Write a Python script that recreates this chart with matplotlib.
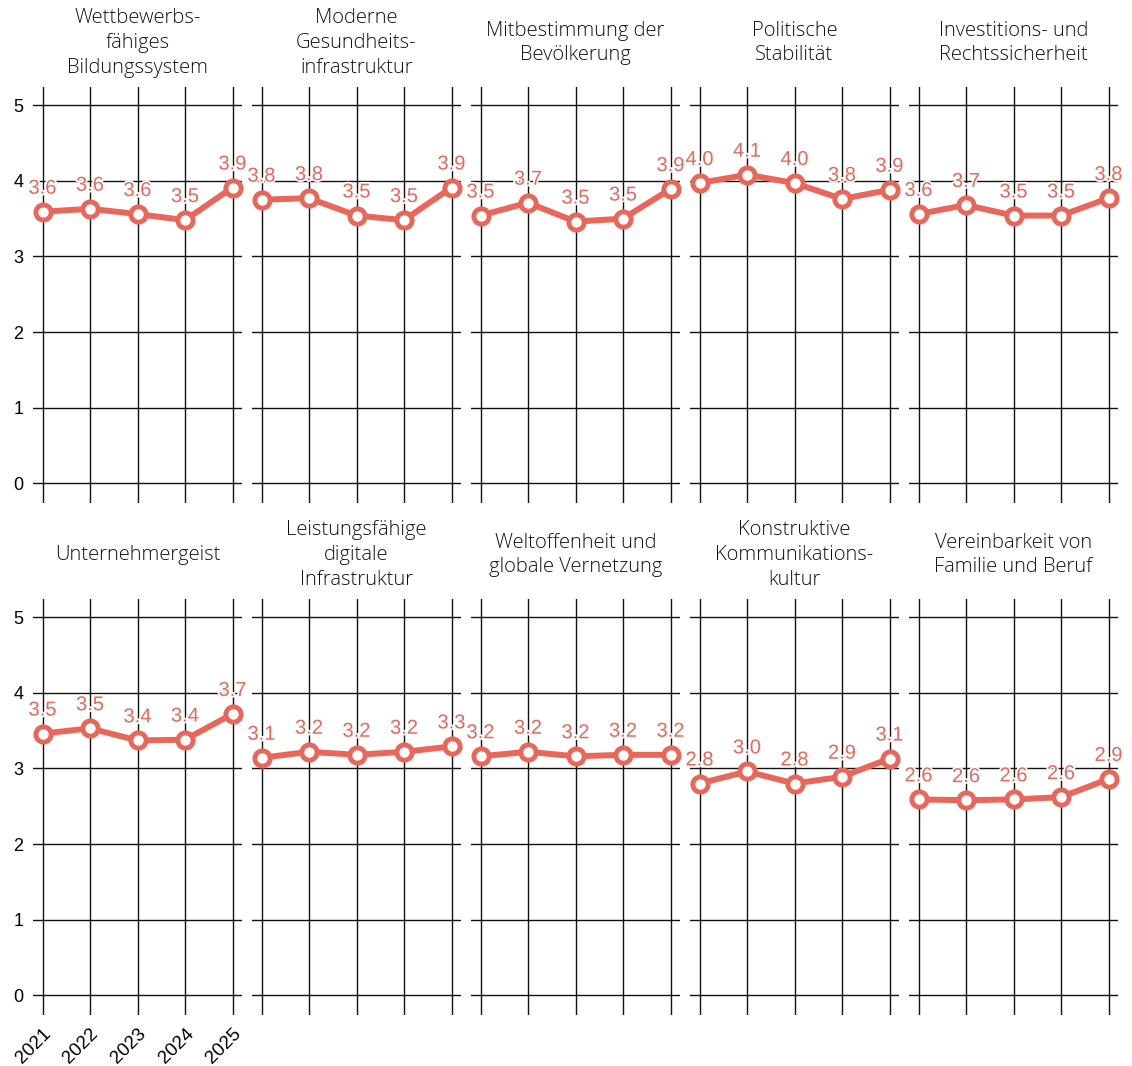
import matplotlib
matplotlib.use("Agg")
import matplotlib.pyplot as plt
import matplotlib.patheffects as pe

plt.rcParams["font.family"] = ["Liberation Sans", "DejaVu Sans"]

years = ["2021", "2022", "2023", "2024", "2025"]
titles = [
    "Wettbewerbs-\nfähiges\nBildungssystem",
    "Moderne\nGesundheits-\ninfrastruktur",
    "Mitbestimmung der\nBevölkerung",
    "Politische\nStabilität",
    "Investitions- und\nRechtssicherheit",
    "Unternehmergeist",
    "Leistungsfähige\ndigitale\nInfrastruktur",
    "Weltoffenheit und\nglobale Vernetzung",
    "Konstruktive\nKommunikations-\nkultur",
    "Vereinbarkeit von\nFamilie und Beruf",
]
bildung = [3.59, 3.63, 3.56, 3.48, 3.91]
gesundheit = [3.75, 3.77, 3.54, 3.48, 3.91]
mitbestimmung = [3.54, 3.71, 3.46, 3.50, 3.89]
stabilitaet = [3.97, 4.08, 3.97, 3.76, 3.88]
rechtssicherheit = [3.56, 3.68, 3.54, 3.54, 3.77]
unternehmergeist = [3.46, 3.53, 3.37, 3.38, 3.72]
digital = [3.14, 3.22, 3.18, 3.22, 3.29]
weltoffenheit = [3.16, 3.22, 3.16, 3.18, 3.18]
kommunikation = [2.80, 2.96, 2.80, 2.89, 3.13]
familie = [2.59, 2.58, 2.59, 2.62, 2.86]
series = [bildung, gesundheit, mitbestimmung, stabilitaet, rechtssicherheit,
          unternehmergeist, digital, weltoffenheit, kommunikation, familie]
yticks = [0, 1, 2, 3, 4, 5]

RED = "#E8675A"
W, H = 1132, 1066
fig = plt.figure(figsize=(W / 100, H / 100), dpi=100)

title_font = ["Open Sans", "DejaVu Sans"]

lefts = [33, 252, 471, 690, 909]
pw = 209
rows = [(87, 503), (599, 1015)]

for i, (vals, title) in enumerate(zip(series, titles)):
    r, c = divmod(i, 5)
    top, bot = rows[r]
    ax = fig.add_axes([lefts[c] / W, 1 - bot / H, pw / W, (bot - top) / H])
    x = list(range(len(years)))
    ax.set_xlim(-0.2, 4.2)
    ax.set_ylim(-0.26, 5.24)
    ax.set_xticks(x)
    ax.set_yticks(yticks)
    ax.grid(True, color="#111111", linewidth=1.0)
    ax.set_axisbelow(True)
    for s in ax.spines.values():
        s.set_visible(False)
    ax.tick_params(length=0, axis="y", pad=7)
    ax.tick_params(length=0, axis="x", pad=7)
    if c == 0:
        ax.set_yticklabels([str(t) for t in yticks], fontsize=13)
    else:
        ax.set_yticklabels([])
    if i == 5:
        ax.set_xticklabels(years, rotation=45, ha="right", va="top",
                           rotation_mode="anchor", fontsize=13.5)
    else:
        ax.set_xticklabels([])
    ax.plot(x, vals, color=RED, linewidth=4.3, marker="o", markersize=11,
            markerfacecolor="white", markeredgecolor=RED, markeredgewidth=3.5,
            zorder=3, clip_on=False)
    for xi, v in zip(x, vals):
        ax.annotate(f"{v:.1f}", (xi, v), xytext=(0, 13), textcoords="offset points",
                    ha="center", va="baseline", color=RED, fontsize=14.5,
                    zorder=4, annotation_clip=False,
                    path_effects=[pe.withStroke(linewidth=2.5, foreground="white")])
    ax.text(0.5, 1 + 44 / (bot - top), title, transform=ax.transAxes, ha="center",
            va="center", fontsize=14.5, family=title_font, fontweight="light",
            linespacing=1.32, color="#111111")

fig.savefig("out.png", dpi=100)
